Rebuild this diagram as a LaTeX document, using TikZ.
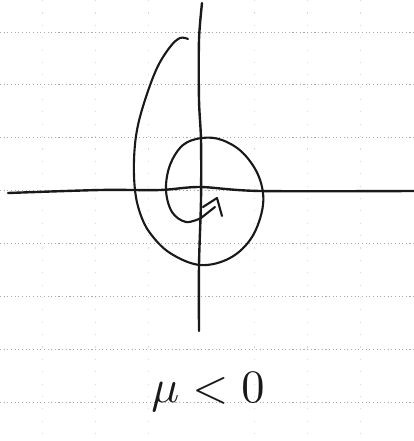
\documentclass[tikz,border=0pt]{standalone}
\usepackage{amsmath,amssymb}
\usepackage{tikz}
\usetikzlibrary{calc}
\definecolor{paperGrid}{RGB}{150,150,150}
\definecolor{penInk}{RGB}{25,25,25}
\tikzset{
  gridline/.style={paperGrid!80, line width=0.45pt, dash pattern=on 0.8pt off 1.8pt},
  gridlinev/.style={paperGrid!35, line width=0.45pt, dash pattern=on 0.8pt off 8pt},
  axisline/.style={penInk, line width=1.7pt, line cap=round, line join=round},
  orbit/.style={penInk, line width=1.5pt, line cap=round, line join=round},
  mulabel/.style={text=penInk, scale=3.3, inner sep=0pt},
}

\begin{document}
\begin{tikzpicture}[x=0.025cm, y=-0.025cm]
  \useasboundingbox (0,0) rectangle (414,441);

  % paper grid
  \foreach \gy in {32,84,137,190,243,296,349,402}
    \draw[gridline] (0,\gy) -- (414,\gy);
  \foreach \gx in {42,95,148,254,307,360}
    \draw[gridlinev] (\gx,0) -- (\gx,441);

  \coordinate (xl) at (8,193);
  \coordinate (xr) at (414,191);
  \coordinate (yt) at (202,3);
  \coordinate (yb) at (199,331);

  % axes
  \draw[axisline] plot[smooth, tension=0.5] coordinates
    {(xl) (100,190) (160,190) (200,187) (260,191) (xr)};
  \draw[axisline] plot[smooth, tension=0.5] coordinates
    {(yt) (199,40) (199,100) (201,140) (201,200) (199,265) (yb)};

  % spiral orbit
  \coordinate (sp0) at (188,39);
  \coordinate (spE) at (201,218);
  \draw[orbit] plot[smooth, tension=0.6] coordinates
    {(sp0) (180,38) (170,47) (157,68) (145,100) (137,130) (134,160)
     (135,190) (140,213) (150,233) (170,253) (200,265) (230,258)
     (252,237) (263,205) (259,177) (243,153) (222,140) (202,138)
     (183,145) (170,165) (166,190) (172,212) (186,222) (spE)};

  % hand drawn arrow head
  \coordinate (ah1) at (215,207);
  \coordinate (ah2) at (203,207);
  \coordinate (ah3) at (217,198);
  \coordinate (ah4) at (222,216);
  \draw[orbit] (spE) -- (ah1);
  \draw[orbit] (ah2) -- (ah3) -- (ah4);

  \node[mulabel] (mu) at (208,392) {$\mu<0$};
\end{tikzpicture}
\end{document}
